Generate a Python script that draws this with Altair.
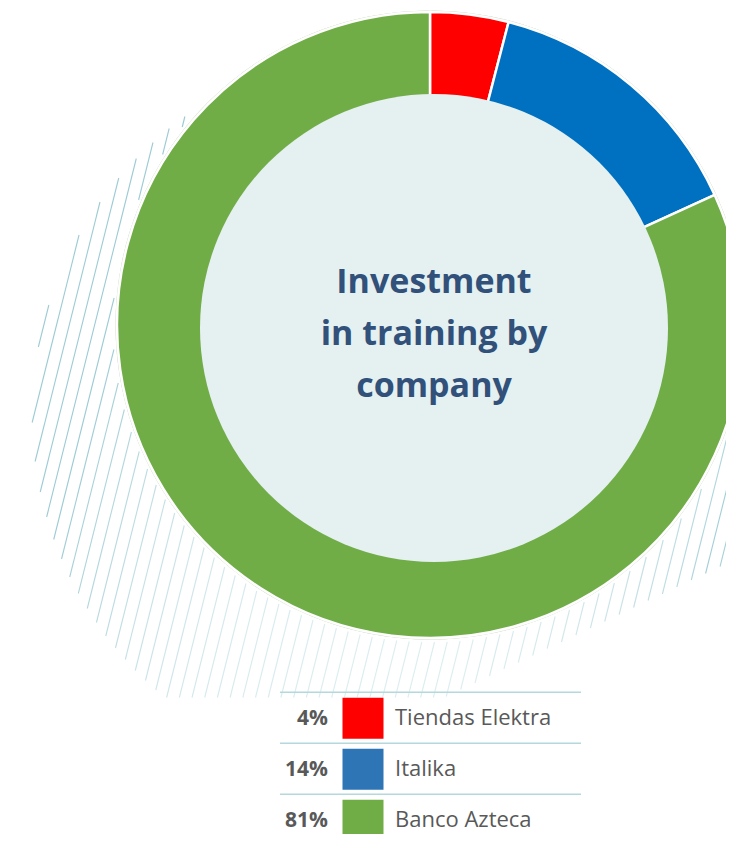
import numpy as np
import pandas as pd
import altair as alt

# ---- data ----
companies = ["Tiendas Elektra", "Italika", "Banco Azteca"]
shares = [4, 14, 81]
pct_labels = ["4%", "14%", "81%"]
slice_colors = ["#ff0000", "#0070c0", "#70ad47"]
swatch_colors = ["#ff0000", "#2e75b6", "#70ad47"]
title_lines = ["Investment", "in training by", "company"]

# ---- layout ----
W, H = 718, 826
CX, CY = 422, 317          # donut centre (plot coords)
ICX, ICY = 426, 320        # inner disc centre
R_OUT, R_IN = 313, 234
FONT = "Open Sans"
TEXT_GREY = "#595959"

data = pd.DataFrame({
    "company": companies,
    "share": shares,
    "pct": pct_labels,
    "swatch": swatch_colors,
    "idx": list(range(len(companies))),
})

# ---- decorative hatching (background ornament) ----
def hatch_segments():
    slope, spacing = 0.25, 12.7
    ys = np.arange(0, H, 0.5)
    segs = []
    for b in np.arange(-50, 1000, spacing):
        xs = b - slope * ys
        inside = (
            ((xs - CX) ** 2 + (ys - CY) ** 2 > 317 ** 2)
            & ((xs - 392) ** 2 + (ys - 407) ** 2 < 368 ** 2)
            & (ys + 8 < 600 + (650 - xs - 8) * 0.475)
            & (ys < 690)
            & (xs >= 0)
        )
        idx = np.flatnonzero(inside)
        if idx.size == 0:
            continue
        runs = np.split(idx, np.flatnonzero(np.diff(idx) > 1) + 1)
        for r in runs:
            if r.size < 4:
                continue
            y1, y2 = ys[r[0]], ys[r[-1]]
            ymid = (y1 + y2) / 2
            op = float(np.clip(1 - (ymid - 430) / 350, 0.35, 1.0))
            segs.append({"x1": xs[r[0]], "y1": y1, "x2": xs[r[-1]], "y2": y2, "op": op})
    return pd.DataFrame(segs)

hatch_df = hatch_segments()
px_x = alt.Scale(domain=[0, W], range=[0, W], nice=False, zero=False)
px_y = alt.Scale(domain=[0, H], range=[0, H], nice=False, zero=False)

hatch = alt.Chart(hatch_df).mark_rule(color="#9ccbd3", strokeWidth=1.1).encode(
    x=alt.X("x1:Q", scale=px_x, axis=None),
    x2="x2:Q",
    y=alt.Y("y1:Q", scale=px_y, axis=None),
    y2="y2:Q",
    opacity=alt.Opacity("op:Q", scale=None),
)

# ---- donut ----
base = alt.Chart(data)

outline = base.mark_arc(
    x=CX, y=CY, outerRadius=R_OUT + 1.5, innerRadius=R_OUT, theta=0, theta2=2 * np.pi,
).encode(color=alt.value("#dfe6d8"))

arcs = base.mark_arc(
    x=CX, y=CY, outerRadius=R_OUT, innerRadius=180, stroke="white", strokeWidth=2.5,
).encode(
    theta=alt.Theta("share:Q", stack=True),
    color=alt.Color("company:N", scale=alt.Scale(domain=companies, range=slice_colors), legend=None),
    order=alt.Order("idx:Q", sort="ascending"),
)

inner = alt.Chart(pd.DataFrame({"k": [0]})).mark_arc(
    x=ICX, y=ICY, outerRadius=R_IN, innerRadius=0, theta=0, theta2=2 * np.pi,
).encode(color=alt.value("#e5f0f1"))

title = alt.Chart(pd.DataFrame({"k": [0]})).mark_text(
    x=ICX, y=ICY - 45, align="center", baseline="middle", font=FONT, fontSize=34,
    fontWeight="bold", color="#31517a", lineHeight=52,
).encode(text=alt.value(title_lines))

# ---- legend table ----
y_rows = alt.Y("company:N", sort=companies, scale=alt.Scale(range=[684.8, 837.8]), axis=None)

rules = base.mark_rule(color="#b5d8dc", strokeWidth=1.5, yOffset=-26).encode(
    y=y_rows, x=alt.value(272), x2=alt.value(573),
)
pct_text = base.mark_text(
    align="right", baseline="middle", font=FONT, fontSize=21, fontWeight="bold",
    color=TEXT_GREY, yOffset=1,
).encode(y=y_rows, x=alt.value(320), text="pct:N")
swatches = base.mark_square(size=41 * 41, opacity=1, filled=True).encode(
    y=y_rows, x=alt.value(355), color=alt.Color("swatch:N", scale=None),
)
labels = base.mark_text(
    align="left", baseline="middle", font=FONT, fontSize=22, color=TEXT_GREY, yOffset=0,
).encode(y=y_rows, x=alt.value(387), text="company:N")

legend = alt.layer(rules, swatches, pct_text, labels)

chart = alt.layer(hatch, outline, arcs, inner, title, legend).resolve_scale(
    x="independent", y="independent", color="independent"
).properties(
    width=W, height=H, padding=0, autosize=alt.AutoSizeParams(type="none"),
).configure_view(strokeWidth=0)

chart.save("out.html", embed_options={"renderer": "svg", "actions": False})
